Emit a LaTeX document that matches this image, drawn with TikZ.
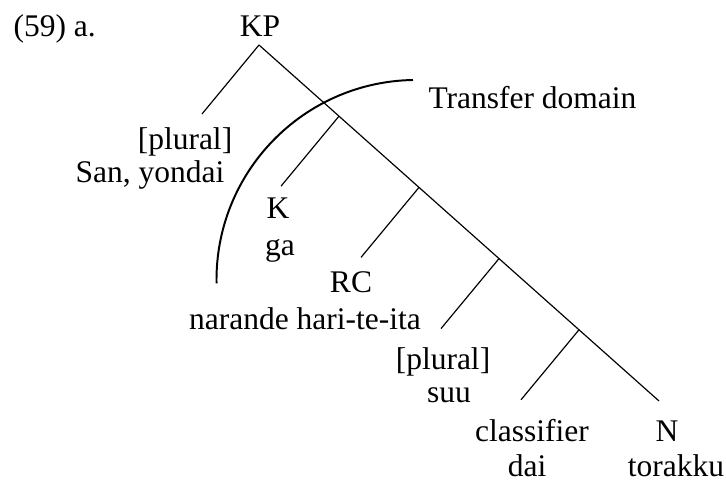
\documentclass[tikz,border=0pt]{standalone}
\usepackage{fontspec}
\setmainfont{Liberation Serif}
\usetikzlibrary{calc}

\begin{document}
\begin{tikzpicture}[
    x=0.381pt, y=0.381pt,
    % Styles
    tree label/.style={anchor=base, inner sep=0pt, font=\fontsize{12}{14}\selectfont},
    branch/.style={draw=black, line width=0.45pt},
    domain arc/.style={draw=black, line width=0.75pt}
]
\useasboundingbox (0,0) rectangle (726,-481);

% Example number and root label
\node[tree label, anchor=base west] (exnum) at (13,-37) {(59) a.};
\node[tree label] (kp) at (260,-37) {KP};

% Spine of the tree (branch points evenly spaced)
\coordinate (root) at (259,-45);
\coordinate (spine end) at (659,-401);
\coordinate (b1) at ($(root)!0.2!(spine end)$);
\coordinate (b2) at ($(root)!0.4!(spine end)$);
\coordinate (b3) at ($(root)!0.6!(spine end)$);
\coordinate (b4) at ($(root)!0.8!(spine end)$);

% Ends of the left branches
\coordinate (l0) at ($(root)+(-57,-69)$);
\coordinate (l1) at ($(b1)+(-58,-70)$);
\coordinate (l2) at ($(b2)+(-58,-70)$);
\coordinate (l3) at ($(b3)+(-58,-70)$);
\coordinate (l4) at ($(b4)+(-58,-70)$);

% Leaf labels
\node[tree label] (plural1) at (185,-150) {[plural]};
\node[tree label] (sanyondai) at (150,-183) {San, yondai};
\node[tree label] (k) at (278,-219) {K};
\node[tree label] (ga) at (280,-256) {ga};
\node[tree label] (rc) at (351,-293) {RC};
\node[tree label] (narande) at (305,-330) {narande hari-te-ita};
\node[tree label] (plural2) at (443,-370) {[plural]};
\node[tree label] (suu) at (449,-403) {suu};
\node[tree label] (clf) at (532,-442) {classifier};
\node[tree label] (dai) at (527,-477) {dai};
\node[tree label] (n) at (667,-442) {N};
\node[tree label] (torakku) at (676,-477) {torakku};

% Branches
\draw[branch] (root) -- (spine end);
\draw[branch] (root) -- (l0);
\draw[branch] (b1) -- (l1);
\draw[branch] (b2) -- (l2);
\draw[branch] (b3) -- (l3);
\draw[branch] (b4) -- (l4);

% Transfer domain
\draw[domain arc] (413,-80) arc[start angle=91, end angle=181, radius=200];
\node[tree label, anchor=base west] (transfer) at (428,-109) {Transfer domain};

\end{tikzpicture}
\end{document}
